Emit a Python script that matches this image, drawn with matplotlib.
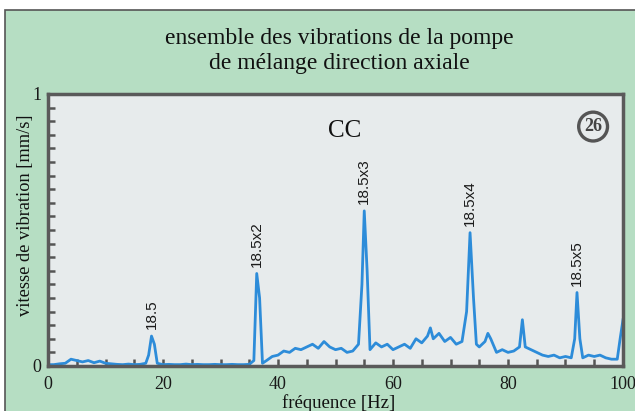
import matplotlib
matplotlib.use("Agg")
import matplotlib.pyplot as plt
from matplotlib.ticker import MultipleLocator
from matplotlib.patches import Rectangle

# spectrum (Hz, mm/s)
freq = [0, 1, 2, 3, 4, 5, 6, 7, 8, 9, 10, 11, 12, 13, 14, 15, 16, 17, 17.5, 18, 18.5, 19,
        20, 21, 22, 23, 24, 25, 26, 27, 28, 29, 30, 31, 32, 33, 34, 35, 35.8, 36.3, 36.8, 37.3,
        38, 39, 40, 41, 42, 43, 44, 45, 46, 47, 48, 49, 50, 51, 52, 53, 54, 54.6, 55, 55.5,
        56, 57, 58, 59, 60, 61, 62, 63, 64, 65, 66, 66.5, 67, 68, 69, 70, 71, 72, 72.8, 73.4,
        74, 74.5, 75, 76, 76.5, 77, 78, 79, 80, 81, 82, 82.5, 83, 84, 85, 86, 87, 88, 89, 90,
        91, 91.6, 92, 92.5, 93, 94, 95, 96, 97, 98, 99, 99.5, 100]
vel = [0.005, 0.005, 0.008, 0.01, 0.025, 0.02, 0.015, 0.02, 0.012, 0.018, 0.01, 0.008, 0.006,
       0.005, 0.007, 0.005, 0.006, 0.01, 0.04, 0.11, 0.08, 0.01,
       0.005, 0.006, 0.005, 0.005, 0.007, 0.005, 0.006, 0.005, 0.005, 0.006, 0.005, 0.005,
       0.006, 0.005, 0.005, 0.006, 0.02, 0.34, 0.25, 0.01,
       0.02, 0.035, 0.04, 0.055, 0.05, 0.065, 0.06, 0.07, 0.08, 0.065, 0.09, 0.07, 0.06, 0.065,
       0.05, 0.055, 0.08, 0.3, 0.57, 0.35,
       0.06, 0.085, 0.07, 0.08, 0.06, 0.07, 0.08, 0.065, 0.1, 0.085, 0.11, 0.14, 0.1, 0.12,
       0.09, 0.105, 0.08, 0.09, 0.2, 0.49,
       0.25, 0.08, 0.07, 0.09, 0.12, 0.1, 0.05, 0.06, 0.05, 0.055, 0.07, 0.17, 0.07, 0.06,
       0.05, 0.04, 0.035, 0.04, 0.03, 0.035,
       0.03, 0.1, 0.27, 0.1, 0.03, 0.04, 0.035, 0.04, 0.03, 0.025, 0.025, 0.1, 0.17]

# harmonic labels
peak_f = [18, 36.3, 55, 73.4, 92]
peak_v = [0.11, 0.34, 0.57, 0.49, 0.27]
peak_lab = ["18.5", "18.5x2", "18.5x3", "18.5x4", "18.5x5"]

green = "#b6dec3"
fig = plt.figure(figsize=(6.35, 4.11), dpi=100, facecolor="white")
fig.patches.append(Rectangle((0.008, -0.02), 1.1, 0.996, transform=fig.transFigure,
                             facecolor=green, edgecolor="#555555", linewidth=1.2, zorder=-1))

ax = fig.add_axes([0.0756, 0.1095, 0.9055, 0.662])
ax.set_facecolor("#e7ebec")
ax.plot(freq, vel, color="#2d8cd9", linewidth=2.0, solid_joinstyle="round")

for f, v, lab in zip(peak_f, peak_v, peak_lab):
    ax.annotate(lab, (f, v), xytext=(0, 5), textcoords="offset points",
                rotation=90, ha="center", va="bottom", fontsize=11,
                family="Liberation Sans", color="#1a1a1a")

ax.set_xlim(0, 100)
ax.set_ylim(0, 1)
ax.set_xticks([0, 20, 40, 60, 80, 100])
ax.set_yticks([0, 1])
ax.xaxis.set_minor_locator(MultipleLocator(5))
ax.yaxis.set_minor_locator(MultipleLocator(0.05))
ax.tick_params(axis="both", which="both", direction="in", color="#555555",
               labelsize=13, labelfontfamily="Liberation Serif", labelcolor="#1a1a1a")
ax.tick_params(axis="x", which="both", length=5, width=1.8, pad=7)
ax.tick_params(axis="y", which="both", length=5, width=1.8, pad=5)
for s in ax.spines.values():
    s.set_color("#5a5a5a")
    s.set_linewidth(2.5)

ax.text(0.516, 0.865, "CC", transform=ax.transAxes, ha="center", va="center",
        fontsize=18, family="Liberation Serif", color="#111111")
ax.text(0.948, 0.88, "26", transform=ax.transAxes, ha="center", va="center",
        fontsize=13, family="Liberation Serif", weight="bold", color="#444444",
        bbox=dict(boxstyle="circle,pad=0.3", facecolor="none", edgecolor="#555555",
                  linewidth=2.4))

fig.text(0.535, 0.906, "ensemble des vibrations de la pompe", ha="center", va="center",
         fontsize=17, family="Liberation Serif", color="#111111")
fig.text(0.535, 0.846, "de mélange direction axiale", ha="center", va="center",
         fontsize=17, family="Liberation Serif", color="#111111")
fig.text(0.04, 0.477, "vitesse de vibration [mm/s]", rotation=90, ha="center",
         va="center", fontsize=13.2, family="Liberation Serif", color="#111111")
fig.text(0.534, 0.02, "fréquence [Hz]", ha="center", va="center",
         fontsize=13.5, family="Liberation Serif", color="#111111")

fig.savefig("out.png", dpi=100, facecolor="white")
